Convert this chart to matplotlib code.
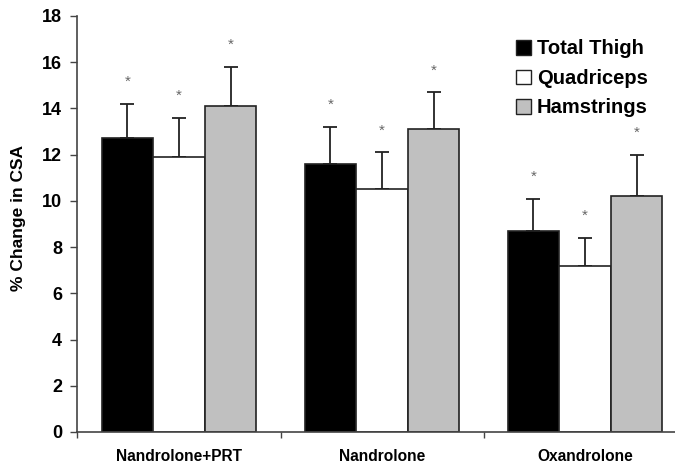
import numpy as np
import matplotlib
matplotlib.use("Agg")
import matplotlib.pyplot as plt
from matplotlib.patches import Patch

# values
groups = ["Nandrolone+PRT", "Nandrolone", "Oxandrolone"]
series = ["Total Thigh", "Quadriceps", "Hamstrings"]
total_thigh = [12.7, 11.6, 8.7]
quadriceps = [11.9, 10.5, 7.2]
hamstrings = [14.1, 13.1, 10.2]
total_thigh_err = [1.5, 1.6, 1.4]
quadriceps_err = [1.7, 1.6, 1.2]
hamstrings_err = [1.7, 1.6, 1.8]
yticks = [0, 2, 4, 6, 8, 10, 12, 14, 16, 18]

FONT = ["Liberation Sans", "DejaVu Sans"]
plt.rcParams["font.family"] = FONT
plt.rcParams["font.weight"] = "bold"

fig = plt.figure(figsize=(6.75, 4.66), dpi=100)
ax = fig.add_axes([0.1148, 0.073, 0.8852, 0.8927])

x = np.arange(len(groups))
width = 0.254
colors = ["black", "white", "#c0c0c0"]
vals = [total_thigh, quadriceps, hamstrings]
errs = [total_thigh_err, quadriceps_err, hamstrings_err]

for i, (v, e, c) in enumerate(zip(vals, errs, colors)):
    pos = x + (i - 1) * width
    ax.bar(pos, v, width, color=c, edgecolor="#222222", linewidth=1.2, zorder=2)
    ax.errorbar(pos, v, yerr=[np.zeros(len(v)), e], fmt="none", ecolor="#222222",
                elinewidth=1.3, capsize=5, capthick=1.3, zorder=1)
    # significance markers above each error bar
    for xp, top in zip(pos, np.array(v) + np.array(e)):
        ax.text(xp, top + 0.95, "*", ha="center", va="center", fontsize=11,
                color="#666666", fontweight="normal")

ax.set_xlim(-0.5, 2.443)
ax.set_ylim(0, 18)
ax.set_yticks(yticks)
ax.set_yticklabels([str(t) for t in yticks], fontsize=13, fontweight="bold")
ax.set_xticks([-0.5, 0.5, 1.5])
ax.set_xticklabels([])
ax.set_xticks(x, minor=True)
ax.set_xticklabels(groups, minor=True, fontsize=11.2, fontweight="bold")
ax.tick_params(axis="x", which="minor", length=0, pad=12)
ax.tick_params(axis="x", which="major", length=4, width=1, color="#444444")
ax.tick_params(axis="y", length=5, width=1, color="#444444", pad=6)

for s in ["top", "right"]:
    ax.spines[s].set_visible(False)
for s in ["left", "bottom"]:
    ax.spines[s].set_color("#444444")
    ax.spines[s].set_linewidth(1.2)

ax.set_ylabel("% Change in CSA", fontsize=12.5, fontweight="bold")
ax.yaxis.set_label_coords(-0.086, 0.515)

handles = [Patch(facecolor=c, edgecolor="#222222", linewidth=1.0) for c in colors]
leg = ax.legend(handles, series, loc="upper left", bbox_to_anchor=(0.72, 0.963),
                frameon=False, prop={"family": FONT, "weight": "bold", "size": 14.5},
                handlelength=0.75, handleheight=0.75, handletextpad=0.3,
                labelspacing=0.52, borderaxespad=0)

fig.savefig("out.png", dpi=100)
